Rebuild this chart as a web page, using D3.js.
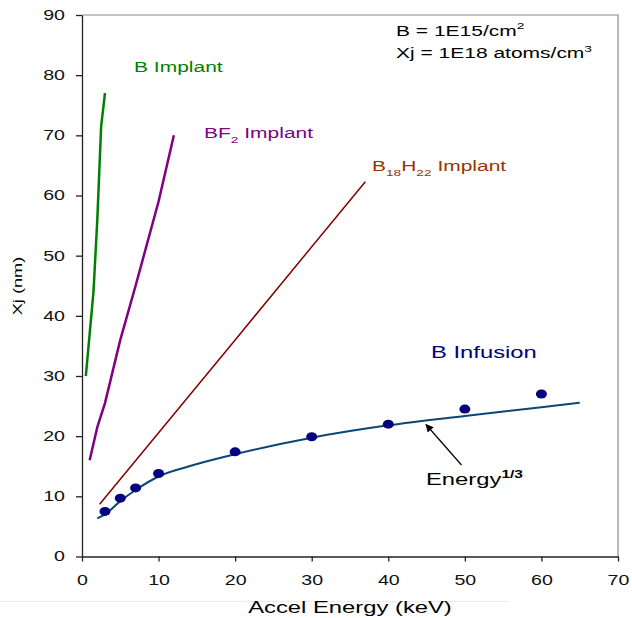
<!DOCTYPE html>
<html>
<head>
<meta charset="utf-8">
<script src="https://cdn.jsdelivr.net/npm/d3@7"></script>
<style>
  body { margin: 0; background: #fff; }
  text { font-family: "Liberation Sans", Arial, sans-serif; }
</style>
</head>
<body>
<div id="content"></div>
<script>
// data
var bImplantE  = [0.5, 1, 1.5, 2, 2.5, 3];
var bImplantXj = [30, 37, 44, 56, 71.5, 77];

var bf2E  = [1, 2, 3, 5, 7, 10, 12];
var bf2Xj = [16, 21.5, 25.5, 36, 45, 59, 70];

var b18E  = [2.3, 20, 37];
var b18Xj = [8.7, 36, 62.3];

var infusionE  = [3, 5, 7, 10, 20, 30, 40, 50, 60];
var infusionXj = [7.5, 9.7, 11.4, 13.8, 17.4, 19.9, 22, 24.5, 27];

var fitE  = [2, 3, 5, 7, 10, 14, 20, 30, 40, 50, 60, 65];
var fitXj = [6.35, 7.0, 9.2, 11.05, 13.3, 15.0, 17.0, 19.75, 21.8, 23.35, 24.8, 25.56];

var xTicks = [0, 10, 20, 30, 40, 50, 60, 70];
var yTicks = [0, 10, 20, 30, 40, 50, 60, 70, 80, 90];

var W = 632, H = 618;
var sx = 1.4; // text in the picture is drawn wide

function zip(a, b) { return a.map(function(v, i){ return [v, b[i]]; }); }

var svg = d3.select("#content").append("svg")
  .attr("width", W).attr("height", H);

var x = d3.scaleLinear().domain([0, 70]).range([82, 618]);
var y = d3.scaleLinear().domain([0, 90]).range([556.5, 15]);

// faint line under the axis
svg.append("line")
  .attr("x1", 0).attr("x2", 510).attr("y1", 601.5).attr("y2", 601.5)
  .attr("stroke", "#ececec").attr("stroke-width", 1);

// top and right frame
svg.append("path")
  .attr("d", "M" + x(0) + "," + y(90) + "H" + x(70) + "V" + y(0))
  .attr("fill", "none").attr("stroke", "#8a8a8a").attr("stroke-width", 1.2);

var yAxis = svg.append("g")
  .attr("transform", "translate(" + x(0) + ",0)")
  .call(d3.axisLeft(y).tickValues(yTicks).tickSize(6).tickSizeOuter(0));
yAxis.selectAll("text")
  .attr("x", -17 / sx)
  .attr("transform", "scale(" + sx + ",1)")
  .style("font-size", "14px").attr("fill", "#111");

var xAxis = svg.append("g")
  .attr("transform", "translate(0," + y(0) + ")")
  .call(d3.axisBottom(x).tickValues(xTicks).tickSize(5).tickSizeOuter(0));
xAxis.selectAll("text")
  .attr("y", 28.5).attr("dy", null)
  .attr("transform", "scale(" + sx + ",1)")
  .style("font-size", "14px").attr("fill", "#111");

svg.selectAll(".domain, .tick line").attr("stroke", "#222").attr("stroke-width", 1.3);

// lines
var line = d3.line().x(function(d){ return x(d[0]); }).y(function(d){ return y(d[1]); });

svg.append("path").datum(zip(bImplantE, bImplantXj))
  .attr("d", line).attr("fill", "none").attr("stroke", "#008000").attr("stroke-width", 2.5);
svg.append("path").datum(zip(bf2E, bf2Xj))
  .attr("d", line).attr("fill", "none").attr("stroke", "#800080").attr("stroke-width", 2.5);
svg.append("path").datum(zip(b18E, b18Xj))
  .attr("d", line).attr("fill", "none").attr("stroke", "#800000").attr("stroke-width", 1.5);
svg.append("path").datum(zip(fitE, fitXj))
  .attr("d", line.curve(d3.curveMonotoneX)).attr("fill", "none")
  .attr("stroke", "#0b4677").attr("stroke-width", 2);

svg.selectAll(".dot").data(zip(infusionE, infusionXj)).enter()
  .append("ellipse").attr("class", "dot")
  .attr("cx", function(d){ return x(d[0]); })
  .attr("cy", function(d){ return y(d[1]); })
  .attr("rx", 5.5).attr("ry", 4.5)
  .attr("fill", "#000080");

// arrow
svg.append("defs").append("marker")
  .attr("id", "head").attr("viewBox", "0 0 10 10")
  .attr("refX", 9).attr("refY", 5)
  .attr("markerWidth", 10).attr("markerHeight", 8)
  .attr("markerUnits", "userSpaceOnUse")
  .attr("orient", "auto")
  .append("path").attr("d", "M0,0L10,5L0,10z").attr("fill", "#000");
svg.append("line")
  .attr("x1", 461.5).attr("y1", 465).attr("x2", 426).attr("y2", 424.5)
  .attr("stroke", "#000").attr("stroke-width", 1.2)
  .attr("marker-end", "url(#head)");

// labels: parts are [text, "base"|"sub"|"sup"]
function label(px, py, size, color, parts, anchor, rot) {
  var t = svg.append("text")
    .attr("transform", "translate(" + px + "," + py + ")" + (rot ? " rotate(" + rot + ")" : "") + " scale(" + sx + ",1)")
    .attr("text-anchor", anchor || "start")
    .attr("fill", color)
    .style("font-size", size + "px");
  var shift = 0;
  parts.forEach(function(p) {
    var s = t.append("tspan").text(p[0]);
    var want = p[1] == "sub" ? size * 0.3 : p[1] == "sup" ? -size * 0.42 : 0;
    s.attr("dy", want - shift);
    shift = want;
    if (p[1] != "base") s.style("font-size", (size * 0.65) + "px");
    if (p[2]) s.style("font-weight", "bold");
  });
  return t;
}

label(134, 72, 15, "#008000", [["B Implant", "base"]]);
label(204, 138, 15, "#800080", [["BF", "base"], ["2", "sub"], [" Implant", "base"]]);
label(372, 171, 15, "#993300", [["B", "base"], ["18", "sub"], ["H", "base"], ["22", "sub"], [" Implant", "base"]]);
label(431, 358, 17, "#000080", [["B Infusion", "base"]]);
label(426, 485, 17, "#000", [["Energy", "base"], ["1/3", "sup", true]]);
label(396, 35.5, 15, "#000", [["B = 1E15/cm", "base"], ["2", "sup"]]);
label(396, 58, 15, "#000", [["Xj = 1E18 atoms/cm", "base"], ["3", "sup"]]);

label(350, 613, 17, "#000", [["Accel Energy (keV)", "base"]], "middle");
label(22, 286, 13, "#000", [["Xj (nm)", "base"]], "middle", -90);
</script>
</body>
</html>
